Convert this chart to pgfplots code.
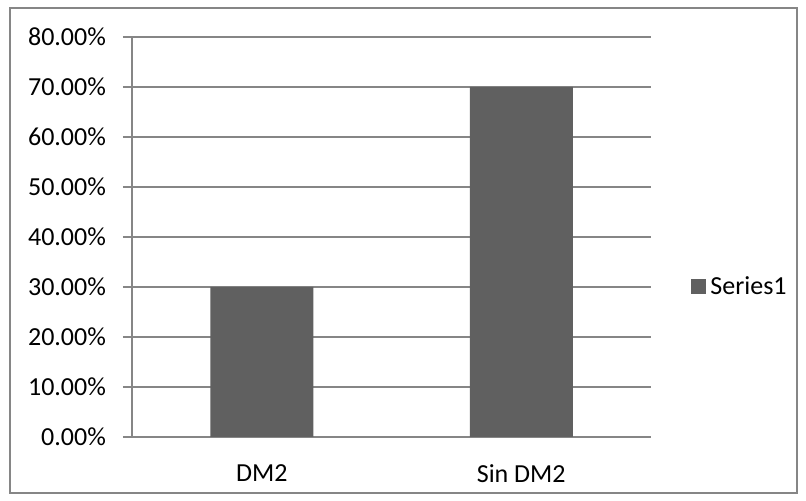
\documentclass[border=0pt]{standalone}
\usepackage{fontspec}
\setmainfont{Carlito}
\usepackage{pgfplots}
\pgfplotsset{compat=1.18}
\definecolor{barcol}{RGB}{96,96,96}
\definecolor{linegray}{RGB}{134,134,134}
\begin{document}
\begin{tikzpicture}[x=0.5pt,y=0.5pt,font=\fontsize{13}{15.6}\selectfont]
\useasboundingbox (0,0) rectangle (806,501);
\draw[linegray, line width=0.75pt] (10,8) rectangle (797,493);
\begin{axis}[
  at={(66pt,32pt)}, anchor=south west,
  scale only axis, width=259.5pt, height=200pt,
  xmin=-0.5, xmax=1.5, ymin=0, ymax=80,
  axis lines=left, axis line style={-, draw=linegray, line width=0.6pt},
  xtick={0,1}, xticklabels={DM2,Sin DM2},
  major x tick style={draw=none},
  extra x ticks={-0.5,0.5,1.5}, extra x tick labels={},
  extra x tick style={grid=none, tick align=outside, major tick length=3.5pt, tick style={draw=linegray, line width=0.6pt}},
  ytick={0,10,...,80},
  yticklabels={0.00\%,10.00\%,20.00\%,30.00\%,40.00\%,50.00\%,60.00\%,70.00\%,80.00\%},
  tick align=outside, major tick length=4.5pt,
  y tick style={draw=linegray, line width=0.6pt},
  ymajorgrids, grid style={draw=linegray, line width=0.6pt},
  yticklabel style={xshift=-5pt},
  xticklabel style={yshift=-6pt},
  legend style={at={(axis description cs:1,0.375)}, anchor=west, xshift=20pt, draw=none, fill=none, inner sep=0pt, legend cell align=left},
]
\addplot[ybar, bar width=51.5pt, fill=barcol, draw=none,
  legend image code/.code={\fill[barcol] (0pt,-3.75pt) rectangle (7.5pt,3.75pt);}]
  coordinates {(0,30) (1,70)};
\addlegendentry{Series1}
\end{axis}
\end{tikzpicture}
\end{document}
